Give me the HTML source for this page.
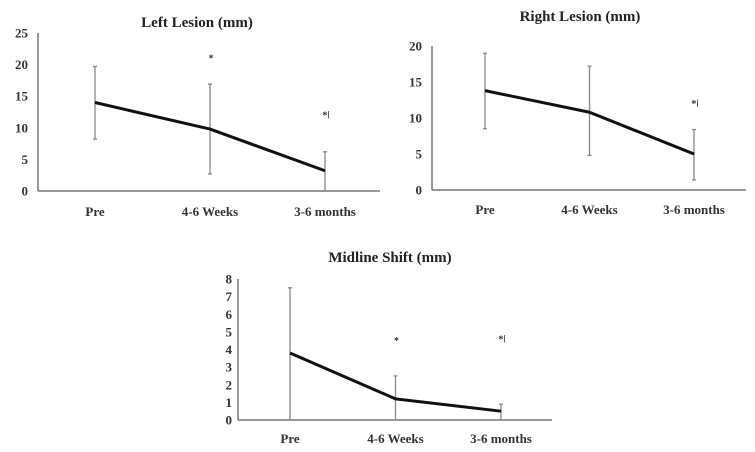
<!DOCTYPE html>
<html><head><meta charset="utf-8"><style>
body{margin:0;background:#fff;}
svg{display:block;font-family:"Liberation Serif",serif;}
</style></head><body>
<svg id="s" width="755" height="452" viewBox="0 0 755 452"></svg>
<script>
const categories = ["Pre","4-6 Weeks","3-6 months"];
const leftMeans = [14, 9.8, 3.2];
const leftLow = [8.2, 2.7, 0];
const leftHigh = [19.7, 16.9, 6.2];
const leftTicks = [0,5,10,15,20,25];
const leftMarks = ["", "*", "*ǀ"];
const rightMeans = [13.8, 10.8, 5.0];
const rightLow = [8.5, 4.8, 1.4];
const rightHigh = [19.0, 17.2, 8.4];
const rightTicks = [0,5,10,15,20];
const rightMarks = ["", "", "*ǀ"];
const midMeans = [3.8, 1.2, 0.5];
const midLow = [0, 0, 0];
const midHigh = [7.5, 2.5, 0.9];
const midTicks = [0,1,2,3,4,5,6,7,8];
const midMarks = ["", "*", "*ǀ"];
const markVals = {left:[0,20.5,11.5], right:[0,0,11.5], mid:[0,4.3,4.4]};

const svg=document.getElementById('s');
const NS="http://www.w3.org/2000/svg";
function mk(tag,attrs,parent){const e=document.createElementNS(NS,tag);for(const k in attrs)e.setAttribute(k,attrs[k]);(parent||svg).appendChild(e);return e;}

function chart(name,cfg,means,low,high,ticks,marks,mv){
  const g=mk('g',{});
  
  
  const yMax=ticks[ticks.length-1];
  const y=v=>cfg.y0-(v/yMax)*(cfg.y0-cfg.yTop);
  const x=i=>cfg.xs[0]+i*(cfg.xs[1]-cfg.xs[0]);
  const t=mk('text',{x:cfg.tx,y:cfg.ty,'text-anchor':'middle','font-size':15,'font-weight':'bold',fill:'#222'},g);
  t.textContent=cfg.title;
  
  
  const ya=mk('line',{x1:cfg.ax,x2:cfg.ax,y1:cfg.yTop,y2:cfg.y0,stroke:'#777','stroke-width':1.5},g);
  
  
  const xa=mk('line',{x1:cfg.ax,x2:cfg.xEnd,y1:cfg.y0,y2:cfg.y0,stroke:'#777','stroke-width':1.5},g);
  
  
  ticks.forEach(v=>{
    const tl=mk('text',{x:cfg.ax-cfg.tickGap,y:y(v)+4.5,'text-anchor':'end','font-size':cfg.tickFs,'font-weight':'bold',fill:'#333'},g);
    tl.textContent=v;
    
    
  });
  categories.forEach((c,i)=>{
    const cl=mk('text',{x:x(i),y:cfg.y0+cfg.catGap,'text-anchor':'middle','font-size':13,'font-weight':'bold',fill:'#333'},g);
    cl.textContent=c;
    
    
    const eb=mk('line',{x1:x(i),x2:x(i),y1:y(low[i]),y2:y(high[i]),stroke:'#888','stroke-width':1.3},g);
    
    
    [low[i],high[i]].forEach(v=>{
      const cap=mk('line',{x1:x(i)-2,x2:x(i)+2,y1:y(v),y2:y(v),stroke:'#888','stroke-width':1.3},g);
      
      
    });
    if(marks[i]){
      const m=mk('text',{x:x(i)+1,y:y(mv[i]),'text-anchor':'middle','font-size':10,'font-weight':'bold',fill:'#333'},g);
      m.textContent=marks[i];
      
      
    }
  });
  const pts=means.map((v,i)=>x(i)+','+y(v)).join(' ');
  const pl=mk('polyline',{points:pts,fill:'none',stroke:'#111','stroke-width':3,'stroke-linejoin':'round'},g);
  
  
}
chart('left-lesion',{title:'Left Lesion (mm)',tx:197,ty:27,ax:38,xEnd:380,yTop:33,y0:191,xs:[95,210],tickGap:10,tickFs:13,catGap:25},leftMeans,leftLow,leftHigh,leftTicks,leftMarks,markVals.left);
chart('right-lesion',{title:'Right Lesion (mm)',tx:580,ty:21,ax:432,xEnd:746,yTop:46,y0:190,xs:[485,589.5],tickGap:10,tickFs:13,catGap:24},rightMeans,rightLow,rightHigh,rightTicks,rightMarks,markVals.right);
chart('midline-shift',{title:'Midline Shift (mm)',tx:390,ty:262,ax:238,xEnd:552,yTop:279,y0:420,xs:[290,395.5],tickGap:6,tickFs:13,catGap:23},midMeans,midLow,midHigh,midTicks,midMarks,markVals.mid);
</script>
</body></html>
